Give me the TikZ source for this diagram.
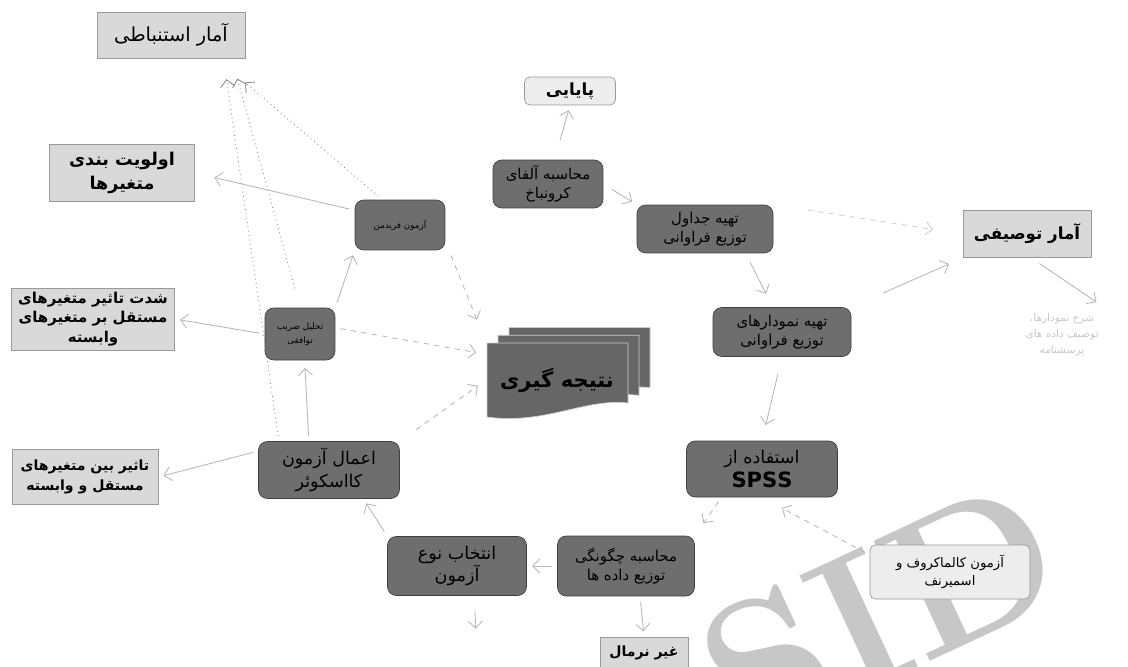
\documentclass[tikz,border=0pt]{standalone}
\usepackage{fontspec}
\newfontfamily\arabicfont[Script=Arabic]{DejaVu Sans}
\usetikzlibrary{arrows.meta}
\TeXXeTstate=1
\newcommand{\fa}[1]{{\arabicfont\beginR #1\endR}}
\begin{document}
\begin{tikzpicture}[x=0.02cm,y=-0.02cm,
    darkbox/.style={draw=black!75,fill=black!57,rounded corners=5pt,align=center,inner sep=1pt,font=\fontsize{8.5}{11}\selectfont},
    lightbox/.style={draw=black!40,fill=black!15,align=center,inner sep=1pt,font=\fontsize{9.5}{12}\selectfont\bfseries},
    palebox/.style={lightbox,fill=black!7,rounded corners=3pt},
    link/.style={draw=black!28,line width=0.5pt,-{Straight Barb[length=4pt,width=8pt]},shorten >=3pt,shorten <=3pt},
    dotlink/.style={link,draw=black!45,dotted},
    dashlink/.style={link,dashed}]
    \useasboundingbox (0,0) rectangle (1128,666);
    \begin{scope}
      \clip (0,0) rectangle (1128,666);
      \node[rotate=25,text=black!22,font=\fontsize{110}{110}\selectfont\bfseries] (wmark) at (880,612) {SID};
    \end{scope}
    \foreach \s in {22,11,0}
      \draw[draw=black!20,fill=black!60,shift={(\s,-0.7*\s)}] (487,417) -- (487,343) -- (628,343) -- (628,403) .. controls (585,398) and (545,425) .. (487,417);
    \node[minimum width=2.82cm,minimum height=1.48cm,inner sep=0pt,font=\fontsize{12}{14}\selectfont\bfseries] (natije) at (557,380) {\fa{نتیجه گیری}};
    \node[lightbox,minimum width=2.96cm,minimum height=0.92cm,font=\fontsize{11}{13}\selectfont] (estn) at (171,35) {\fa{آمار استنباطی}};
    \node[palebox,minimum width=1.82cm,minimum height=0.56cm] (paya) at (570,91) {\fa{پایایی}};
    \node[darkbox,minimum width=2.2cm,minimum height=0.96cm] (alfa) at (548,184) {\fa{محاسبه آلفای}\\\fa{کرونباخ}};
    \node[darkbox,minimum width=2.72cm,minimum height=0.96cm] (jadval) at (705,229) {\fa{تهیه جداول}\\\fa{توزیع فراوانی}};
    \node[lightbox,minimum width=2.56cm,minimum height=0.94cm] (tosif) at (1027,234) {\fa{آمار توصیفی}};
    \node[align=center,text=black!22,font=\fontsize{6}{9}\selectfont] (sharh) at (1062,335) {\fa{شرح نمودارها،}\\\fa{توصیف داده های}\\\fa{پرسشنامه}};
    \node[darkbox,minimum width=2.76cm,minimum height=0.98cm] (nemudar) at (782,332) {\fa{تهیه نمودارهای}\\\fa{توزیع فراوانی}};
    \node[darkbox,minimum width=3.02cm,minimum height=1.12cm,font=\fontsize{10}{14}\selectfont] (spss) at (762,469) {\fa{استفاده از}\\{\arabicfont\bfseries\fontsize{12}{14}\selectfont SPSS}};
    \node[palebox,minimum width=3.2cm,minimum height=1.08cm,font=\fontsize{7.5}{10}\selectfont] (kolmo) at (950,572) {\fa{آزمون کالماکروف و}\\\fa{اسمیرنف}};
    \node[darkbox,minimum width=2.74cm,minimum height=1.2cm] (chegun) at (626,566) {\fa{محاسبه چگونگی}\\\fa{توزیع داده ها}};
    \node[lightbox,minimum width=1.76cm,minimum height=0.64cm,font=\fontsize{8}{10}\selectfont\bfseries] (nonnorm) at (644,653) {\fa{غیر نرمال}};
    \node[darkbox,minimum width=2.78cm,minimum height=1.18cm,font=\fontsize{10}{13}\selectfont] (entekhab) at (457,566) {\fa{انتخاب نوع}\\\fa{آزمون}};
    \node[darkbox,minimum width=2.82cm,minimum height=1.14cm,font=\fontsize{10}{13}\selectfont] (amal) at (329,470) {\fa{اعمال آزمون}\\\fa{کااسکوئر}};
    \node[lightbox,minimum width=2.92cm,minimum height=1.1cm,font=\fontsize{8}{11}\selectfont\bfseries] (tasir) at (85,477) {\fa{تاثیر بین متغیرهای}\\\fa{مستقل و وابسته}};
    \node[darkbox,minimum width=1.4cm,minimum height=1.04cm,font=\fontsize{5}{8}\selectfont] (zarib) at (300,334) {\fa{تحلیل ضریب}\\\fa{توافقی}};
    \node[lightbox,minimum width=3.26cm,minimum height=1.24cm,font=\fontsize{8.5}{11}\selectfont\bfseries] (shedat) at (93,319) {\fa{شدت تاثیر متغیرهای}\\\fa{مستقل بر متغیرهای}\\\fa{وابسته}};
    \node[darkbox,minimum width=1.8cm,minimum height=1cm,font=\fontsize{5}{8}\selectfont] (friedman) at (400,225) {\fa{آزمون فریدمن}};
    \node[lightbox,minimum width=2.9cm,minimum height=1.14cm,font=\fontsize{10}{14}\selectfont\bfseries] (olaviat) at (122,173) {\fa{اولویت بندی}\\\fa{متغیرها}};
    \coordinate (norm) at (476,634);

    \draw[dotlink,shorten >=0.74cm] (friedman.125) -- (estn.-27);
    \draw[dotlink,shorten >=0.42cm,shorten <=0.4cm] (zarib.north) -- (estn.-21);
    \draw[dotlink,shorten >=0.42cm] (amal.150) -- (estn.-24);
    \draw[link,shorten >=0.4cm] (friedman.162) -- (olaviat.east);
    \draw[link] (zarib.north east) -- (friedman.south west);
    \draw[link] (zarib.west) -- (shedat.east);
    \draw[link,shorten >=0.15cm] (amal.125) -- (zarib.-80);
    \draw[link] (amal.165) -- (tasir.east);
    \draw[link] (entekhab.north west) -- (amal.-40);
    \draw[link] (chegun.west) -- (entekhab.east);
    \draw[link] (chegun.-65) -- (nonnorm.north);
    \draw[link,shorten <=0.3cm] (entekhab.-60) -- (norm);
    \draw[dashlink,shorten >=0.3cm] (spss.-145) -- (chegun.north east);
    \draw[dashlink,shorten >=0.45cm] (kolmo.168) -- (spss.south);
    \draw[link,shorten >=0.32cm,shorten <=0.35cm] (nemudar.south) -- (spss.north);
    \draw[link,shorten >=0.3cm,shorten <=0.2cm] (jadval.-31) -- (nemudar.110);
    \draw[link,shorten <=0.2cm] (alfa.east) -- (jadval.north west);
    \draw[link,shorten <=0.4cm,shorten >=0.1cm] (alfa.75) -- (paya.south);
    \draw[dashlink,draw=black!18,shorten <=0.7cm,shorten >=0.6cm] (jadval.north east) -- (tosif.west);
    \draw[link,shorten <=0.7cm,shorten >=0.3cm] (nemudar.north east) -- (tosif.south west);
    \draw[link,shorten <=0.2cm,shorten >=0.2cm] (tosif.-80) -- (sharh.north east);
    \draw[dashlink,shorten >=0.5cm,shorten <=0.3cm] (friedman.-20) -- (natije.north west);
    \draw[dashlink,shorten >=0.2cm] (zarib.10) -- (natije.160);
    \draw[dashlink,shorten >=0.2cm,shorten <=0.4cm] (amal.north east) -- (natije.west);
\end{tikzpicture}
\end{document}
